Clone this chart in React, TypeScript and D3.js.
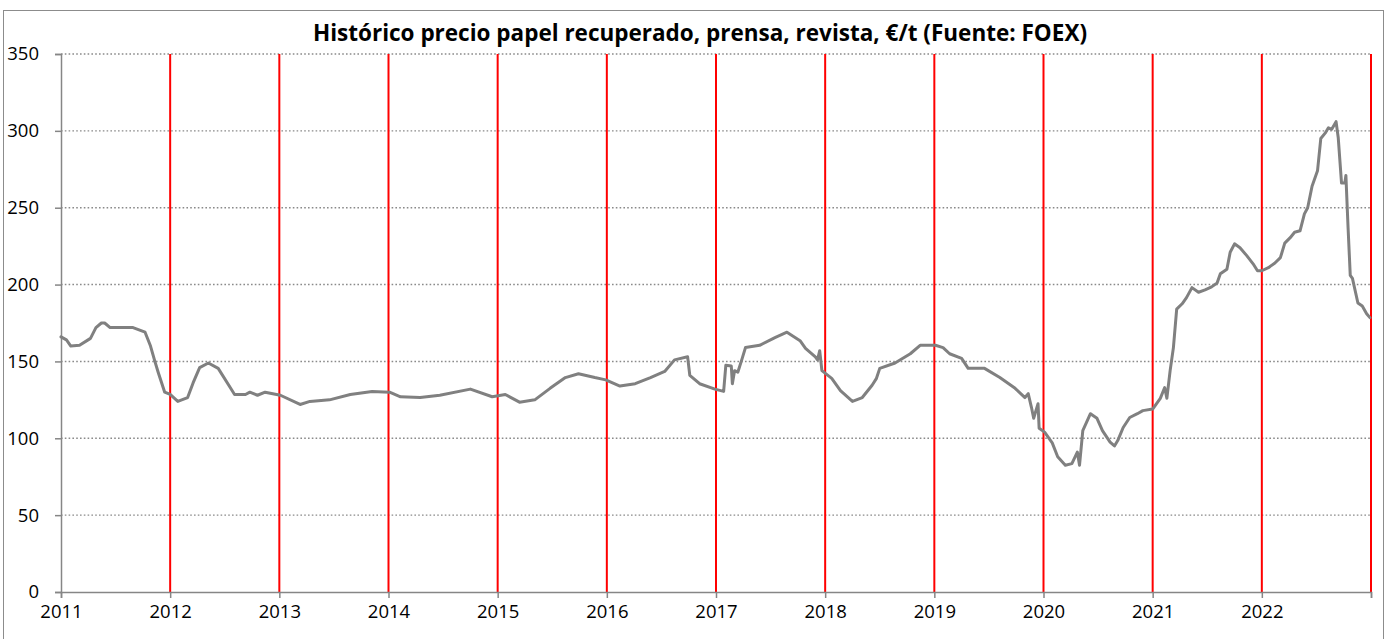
import React, { useRef, useEffect } from 'react';
import * as d3 from 'd3';

// Chart texts
const TITLE = 'Histórico precio papel recuperado, prensa, revista, €/t (Fuente: FOEX)';

// Axis ticks
const yearTicks = [2011, 2012, 2013, 2014, 2015, 2016, 2017, 2018, 2019, 2020, 2021, 2022, 2023];
const yearLabels = ['2011', '2012', '2013', '2014', '2015', '2016', '2017', '2018', '2019', '2020', '2021', '2022', ''];
const valueTicks = [0, 50, 100, 150, 200, 250, 300, 350];

// Series: time in decimal years, price in €/t
const times = [
  2011.00, 2011.05, 2011.09, 2011.17, 2011.27, 2011.32, 2011.37, 2011.40, 2011.45, 2011.66,
  2011.77, 2011.82, 2011.86, 2011.89, 2011.95, 2012.00, 2012.07, 2012.16, 2012.21, 2012.27,
  2012.35, 2012.44, 2012.55, 2012.59, 2012.69, 2012.73, 2012.80, 2012.87, 2013.01, 2013.19,
  2013.28, 2013.46, 2013.65, 2013.85, 2014.01, 2014.11, 2014.29, 2014.47, 2014.75, 2014.95,
  2015.07, 2015.20, 2015.34, 2015.48, 2015.62, 2015.74, 2015.89, 2015.99, 2016.12, 2016.26,
  2016.40, 2016.53, 2016.62, 2016.74, 2016.76, 2016.85, 2016.99, 2017.07, 2017.09, 2017.14,
  2017.15, 2017.17, 2017.20, 2017.24, 2017.27, 2017.40, 2017.54, 2017.65, 2017.77, 2017.82,
  2017.91, 2017.93, 2017.95, 2017.97, 2018.06, 2018.14, 2018.25, 2018.34, 2018.43, 2018.47,
  2018.50, 2018.64, 2018.78, 2018.87, 2019.01, 2019.08, 2019.14, 2019.25, 2019.31, 2019.46,
  2019.60, 2019.74, 2019.83, 2019.86, 2019.89, 2019.91, 2019.95, 2019.96, 2020.01, 2020.08,
  2020.13, 2020.20, 2020.26, 2020.31, 2020.33, 2020.36, 2020.43, 2020.49, 2020.54, 2020.61,
  2020.65, 2020.68, 2020.73, 2020.79, 2020.86, 2020.91, 2021.00, 2021.07, 2021.11, 2021.13,
  2021.16, 2021.19, 2021.22, 2021.27, 2021.31, 2021.36, 2021.42, 2021.48, 2021.54, 2021.59,
  2021.62, 2021.68, 2021.71, 2021.75, 2021.80, 2021.86, 2021.92, 2021.96, 2022.00, 2022.06,
  2022.12, 2022.17, 2022.21, 2022.26, 2022.30, 2022.35, 2022.39, 2022.42, 2022.46, 2022.51,
  2022.54, 2022.58, 2022.61, 2022.64, 2022.68, 2022.70, 2022.73, 2022.76, 2022.77, 2022.79,
  2022.81, 2022.83, 2022.88, 2022.92, 2022.96, 2022.99,
];
const prices = [
  166, 164, 160, 160.5, 165, 172, 175, 175, 172, 172,
  169, 160, 150, 143, 130, 128.5, 124, 126.5, 136, 146,
  149, 145.5, 133, 128.5, 128.5, 130, 128, 130, 128, 122,
  124, 125, 128.5, 130.5, 130, 127, 126.5, 128, 132, 127,
  128.5, 123.5, 125, 132.5, 139.5, 142, 139.5, 138, 134, 135.5,
  139.5, 143.5, 151, 153, 141, 135.5, 132, 130.5, 147.5, 147,
  135.5, 144, 143, 152, 159, 160.5, 165.5, 169, 163.5, 158.5,
  153, 151, 157, 144, 139, 131, 124, 126.5, 134.5, 139,
  145.5, 149, 155, 160.5, 160.5, 159, 155, 152, 145.5, 145.5,
  139.5, 132.5, 126.5, 129, 120, 113, 122.5, 106.5, 104, 97,
  88, 82.5, 83.5, 91, 82.5, 105, 116, 113, 105, 97.5,
  95, 98.5, 107, 113.5, 116, 118, 119, 126, 133, 126,
  144, 159, 184, 187.5, 191.5, 198, 195, 196.5, 198.5, 201,
  207, 210, 221, 226.5, 224, 219, 213.5, 209, 209, 211,
  214, 217.5, 227, 230.5, 234, 235, 246, 250, 264, 274,
  295, 298.5, 302, 301, 306, 295.5, 266, 266, 271, 237,
  206, 204, 188, 186, 181, 178.5,
];

const FONT = '"Open Sans", "Liberation Sans", sans-serif';

const App = () => {
  const ref = useRef<SVGSVGElement>(null);
  const width = 1389;
  const height = 639;

  useEffect(() => {
    const svg = d3.select(ref.current);
    svg.selectAll('*').remove();

    const margin = { top: 54, right: 18, bottom: 47, left: 61 };
    const innerWidth = width - margin.left - margin.right;
    const innerHeight = height - margin.top - margin.bottom;

    const x = d3.scaleLinear().domain([2011, 2023]).range([0, innerWidth]);
    const y = d3.scaleLinear().domain([0, 350]).range([innerHeight, 0]);

    // outer frame
    svg.append('rect')
      .attr('x', 3.5).attr('y', 10.5)
      .attr('width', 1380).attr('height', 660)
      .attr('fill', 'white')
      .attr('stroke', '#8c8c8c')
      .attr('stroke-width', 1);

    // Title
    svg.append('text')
      .attr('x', 700)
      .attr('y', 41)
      .attr('text-anchor', 'middle')
      .style('font-family', FONT)
      .style('font-weight', 'bold')
      .style('font-size', '22.5px')
      .text(TITLE);

    const chart = svg.append('g')
      .attr('transform', `translate(${margin.left}, ${margin.top})`);

    // dotted gridlines
    chart.append('g')
      .selectAll('line')
      .data(valueTicks.filter(v => v > 0))
      .join('line')
      .attr('x1', 0).attr('x2', innerWidth)
      .attr('y1', d => y(d)).attr('y2', d => y(d))
      .attr('stroke', '#8a8a8a')
      .attr('stroke-width', 1.4)
      .attr('stroke-dasharray', '1.6,2.2');

    // red year separators
    chart.append('g')
      .selectAll('line')
      .data(yearTicks.slice(1))
      .join('line')
      .attr('x1', d => x(d)).attr('x2', d => x(d))
      .attr('y1', 0).attr('y2', innerHeight)
      .attr('stroke', '#ff0000')
      .attr('stroke-width', 2);

    // Y-axis
    const yAxis = chart.append('g')
      .call(d3.axisLeft(y).tickValues(valueTicks).tickSize(6).tickFormat(d3.format('d')));
    yAxis.select('.domain').attr('stroke', '#868686').attr('stroke-width', 1.5);
    yAxis.selectAll('.tick line').attr('stroke', '#868686').attr('stroke-width', 1.5);
    yAxis.selectAll('text')
      .attr('x', -22)
      .style('font-family', FONT)
      .style('font-size', '18.5px')
      .attr('fill', '#000');

    // X-axis
    const xAxis = chart.append('g')
      .attr('transform', `translate(0, ${innerHeight})`)
      .call(d3.axisBottom(x).tickValues(yearTicks).tickSize(6)
        .tickFormat((d, i) => yearLabels[i]));
    xAxis.select('.domain').attr('stroke', '#868686').attr('stroke-width', 1.5);
    xAxis.selectAll('.tick line').attr('stroke', '#868686').attr('stroke-width', 1.5);
    xAxis.selectAll('text')
      .attr('y', 13)
      .style('font-family', FONT)
      .style('font-size', '18.5px')
      .attr('fill', '#000');

    // price line
    const series = times.map((t, i) => ({ t, v: prices[i] }));
    const line = d3.line<{ t: number; v: number }>()
      .x(d => x(d.t))
      .y(d => y(d.v));

    chart.append('path')
      .datum(series)
      .attr('d', line)
      .attr('fill', 'none')
      .attr('stroke', '#808080')
      .attr('stroke-width', 3)
      .attr('stroke-linejoin', 'round')
      .attr('stroke-linecap', 'round');
  }, []);

  return (
    <svg
      ref={ref}
      width={width}
      height={height}
      style={{ position: 'absolute', left: 0, top: 0, display: 'block' }}
    />
  );
};

export default App;
